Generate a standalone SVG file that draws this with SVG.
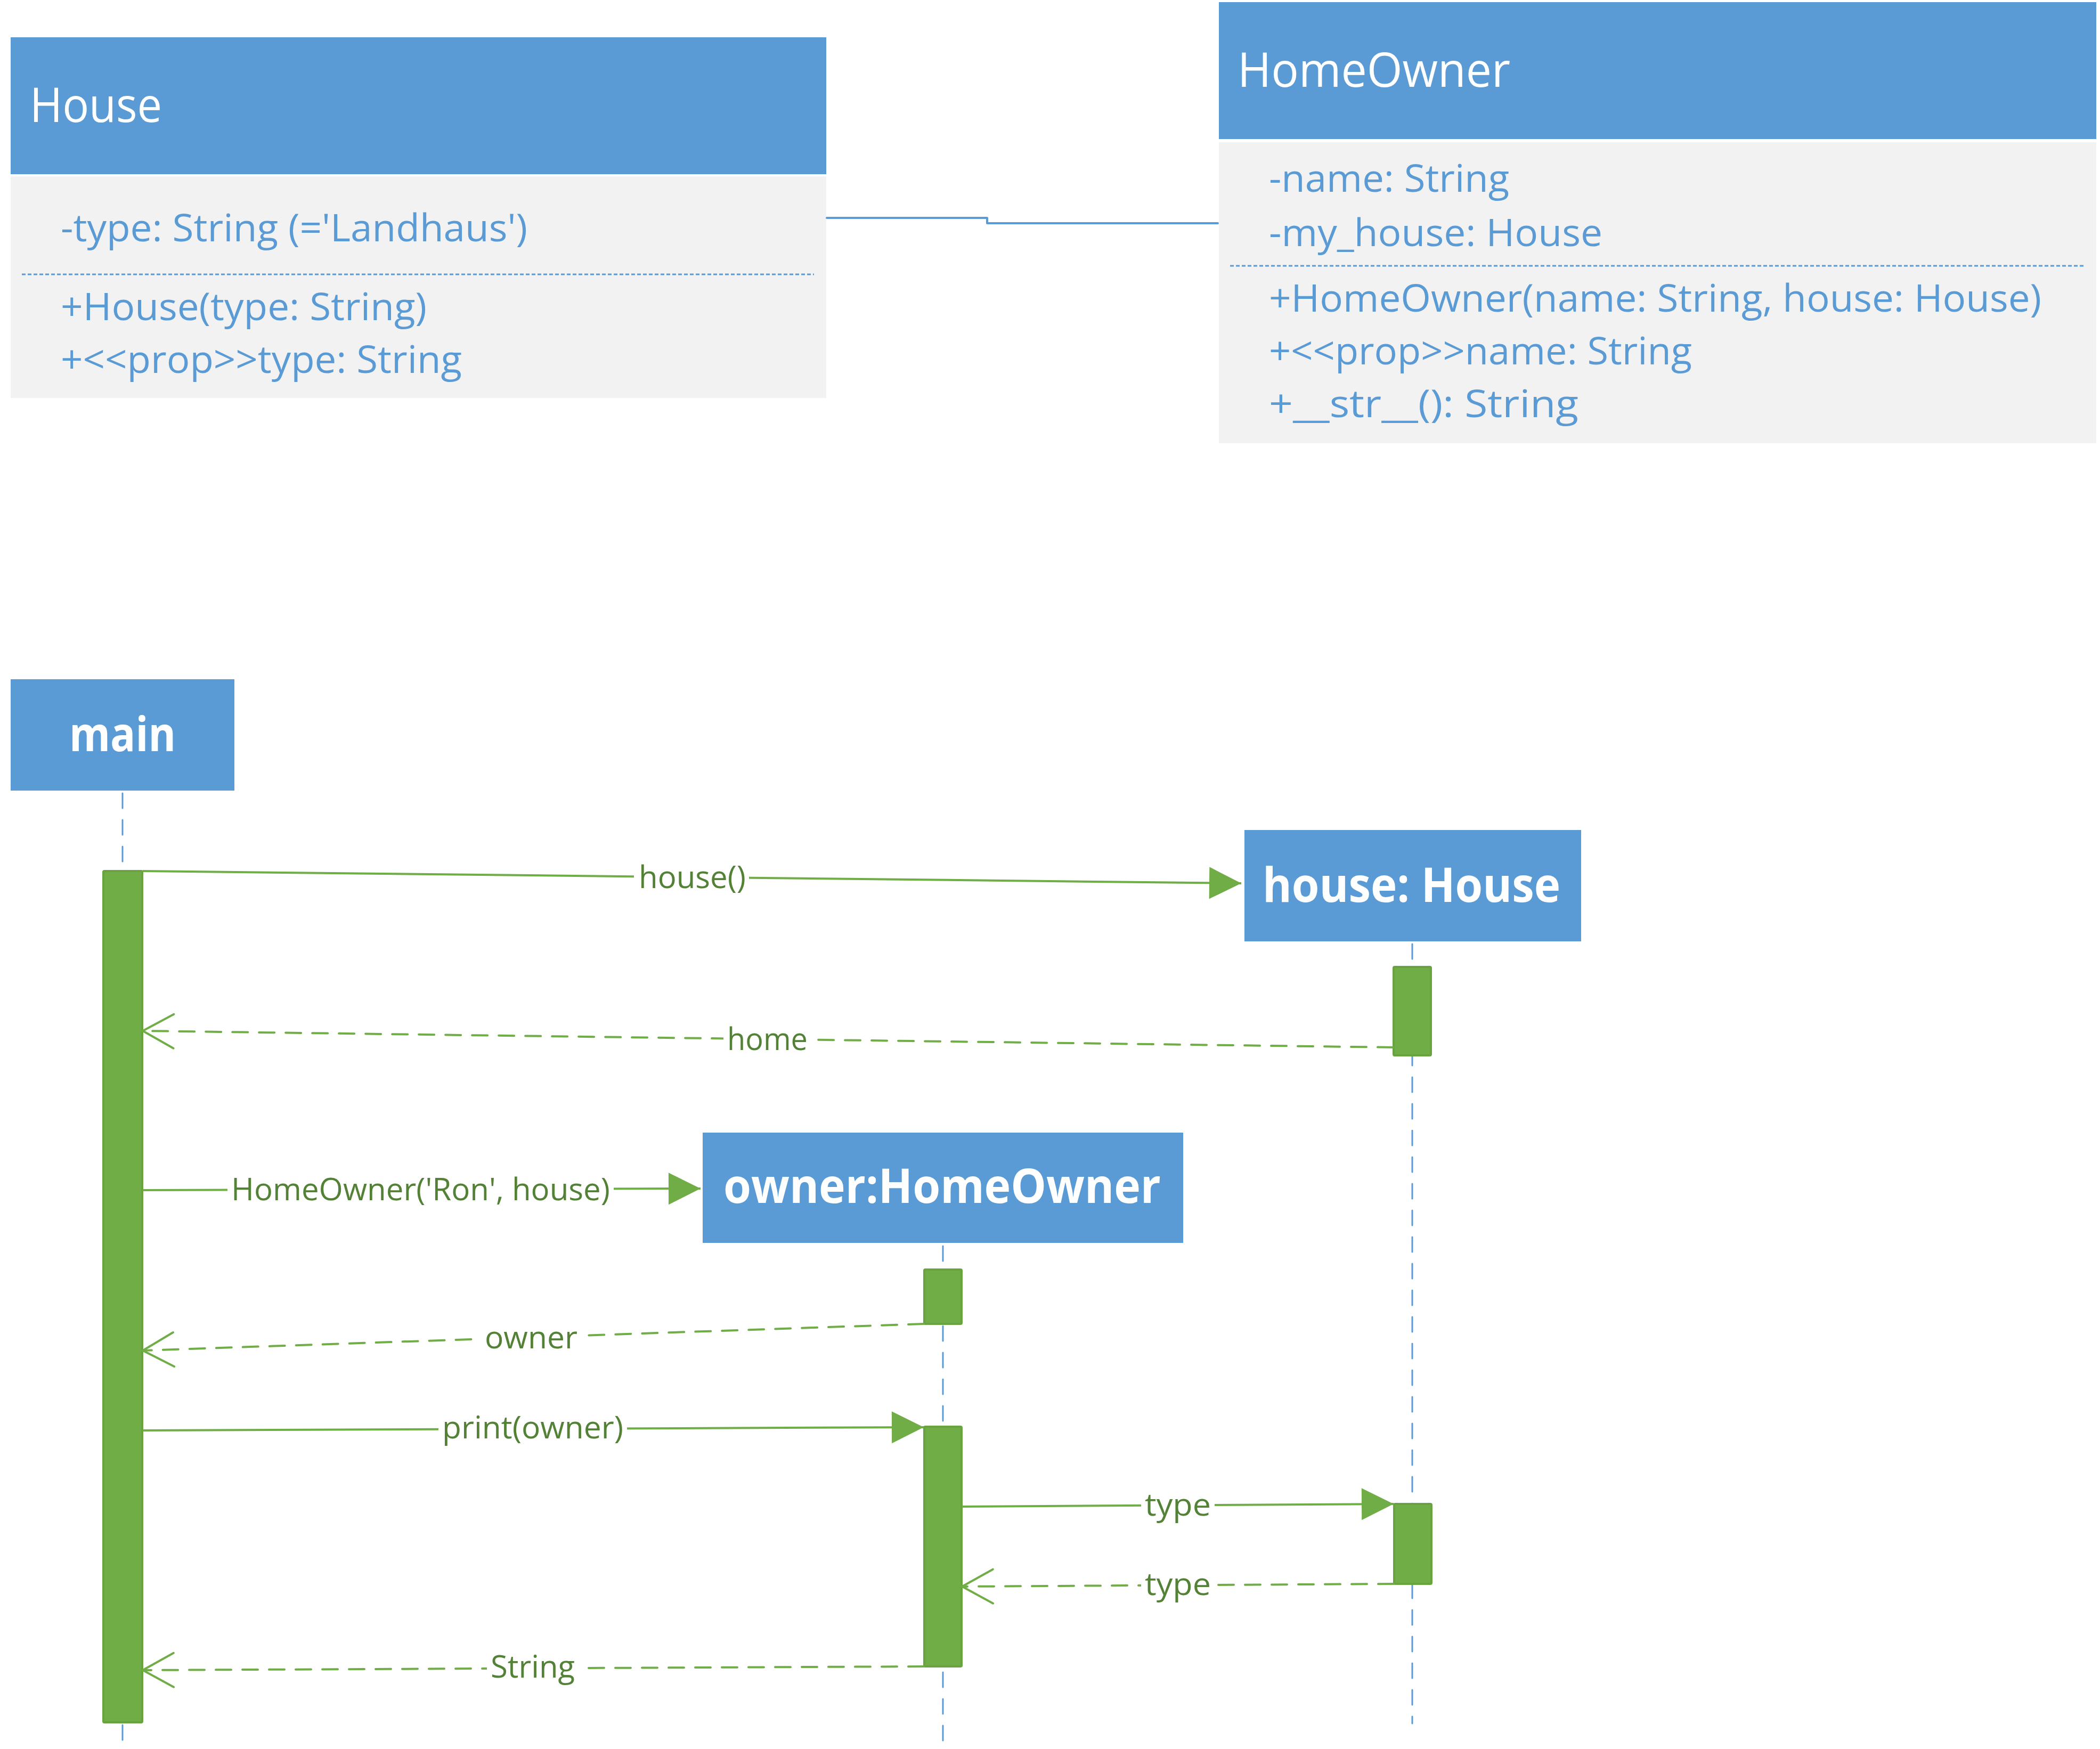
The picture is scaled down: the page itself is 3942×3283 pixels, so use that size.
<svg xmlns="http://www.w3.org/2000/svg" width="3942" height="3283" viewBox="0 0 3942 3283">
<style>
.hdr{fill:#5B9BD5}
.body{fill:#F2F2F2}
.title{font-family:"Open Sans","Liberation Sans",sans-serif;font-size:90px;fill:#FFFFFF}
.attr{font-family:"Open Sans","Liberation Sans",sans-serif;font-size:72px;fill:#5B9BD5}
.sep{stroke:#5B9BD5;stroke-width:3;stroke-dasharray:7 4;fill:none}
.assoc{stroke:#5B9BD5;stroke-width:4;fill:none;stroke-linejoin:round;stroke-linecap:round}
.head{fill:#5B9BD5}
.htxt{font-family:"Open Sans","Liberation Sans",sans-serif;font-size:90px;font-weight:700;fill:#FFFFFF}
.life{stroke:#5B9BD5;stroke-width:3;stroke-dasharray:28 22;stroke-linecap:round;fill:none}
.act{fill:#70AD47;stroke:#68A33F;stroke-width:4}
.msg{stroke:#70AD47;stroke-width:4;fill:none}
.ret{stroke:#70AD47;stroke-width:4;fill:none;stroke-dasharray:29 21;stroke-linecap:round}
.lblbg{fill:#FFFFFF}
.lbl{font-family:"Open Sans","Liberation Sans",sans-serif;font-size:58px;fill:#538135}
</style>
<defs>
<marker id="filled" markerUnits="userSpaceOnUse" markerWidth="62" markerHeight="62" refX="60" refY="30" orient="auto" overflow="visible">
<path d="M0,0 L60,30 L0,60 Z" fill="#70AD47" stroke="none"/>
</marker>
<marker id="open" markerUnits="userSpaceOnUse" markerWidth="62" markerHeight="66" refX="58" refY="32" orient="auto" overflow="visible">
<path d="M0,0 L58,32 L0,64" fill="none" stroke="#70AD47" stroke-width="4" stroke-dasharray="none" stroke-linecap="round"/>
</marker>
</defs>
<rect width="3942" height="3283" fill="#FFFFFF"/>

<g id="class-house">
<rect class="hdr" x="20" y="70" width="1531" height="257"/>
<rect class="body" x="20" y="331" width="1531" height="416"/>
<text class="title" x="56" y="229" textLength="248" lengthAdjust="spacingAndGlyphs">House</text>
<text class="attr" x="114" y="453" textLength="876" lengthAdjust="spacingAndGlyphs">-type: String (='Landhaus')</text>
<line class="sep" x1="41" y1="515" x2="1528" y2="515"/>
<text class="attr" x="114" y="601" textLength="687" lengthAdjust="spacingAndGlyphs">+House(type: String)</text>
<text class="attr" x="114" y="700" textLength="753" lengthAdjust="spacingAndGlyphs">+&lt;&lt;prop&gt;&gt;type: String</text>
</g>

<g id="class-homeowner">
<rect class="hdr" x="2288" y="4" width="1647" height="257"/>
<rect class="body" x="2288" y="267" width="1647" height="565"/>
<text class="title" x="2323" y="163" textLength="512" lengthAdjust="spacingAndGlyphs">HomeOwner</text>
<text class="attr" x="2382" y="360" textLength="451" lengthAdjust="spacingAndGlyphs">-name: String</text>
<text class="attr" x="2382" y="462" textLength="626" lengthAdjust="spacingAndGlyphs">-my_house: House</text>
<line class="sep" x1="2309" y1="499" x2="3915" y2="499"/>
<text class="attr" x="2382" y="585" textLength="1450" lengthAdjust="spacingAndGlyphs">+HomeOwner(name: String, house: House)</text>
<text class="attr" x="2382" y="684" textLength="794" lengthAdjust="spacingAndGlyphs">+&lt;&lt;prop&gt;&gt;name: String</text>
<text class="attr" x="2382" y="783" textLength="581" lengthAdjust="spacingAndGlyphs">+__str__(): String</text>
</g>

<g id="lifeline-main">
<line class="life" x1="230" y1="1489" x2="230" y2="1634"/>
<line class="life" x1="230" y1="3238" x2="230" y2="3283"/>
<rect class="head" x="20" y="1275" width="420" height="209"/>
<text class="htxt" x="130" y="1410" textLength="200" lengthAdjust="spacingAndGlyphs">main</text>
<rect class="act" x="194" y="1635" width="73" height="1598" rx="2"/>
</g>

<g id="lifeline-house">
<line class="life" x1="2651" y1="1772" x2="2651" y2="3235"/>
<rect class="head" x="2336" y="1558" width="632" height="209"/>
<text class="htxt" x="2370" y="1693" textLength="559" lengthAdjust="spacingAndGlyphs">house: House</text>
<rect class="act" x="2616" y="1815" width="70" height="166" rx="2"/>
<rect class="act" x="2617" y="2823" width="70" height="150" rx="2"/>
</g>

<g id="lifeline-owner">
<line class="life" x1="1770" y1="2339" x2="1770" y2="3283"/>
<rect class="head" x="1319" y="2126" width="902" height="207"/>
<text class="htxt" x="1358" y="2258" textLength="821" lengthAdjust="spacingAndGlyphs">owner:HomeOwner</text>
<rect class="act" x="1735" y="2383" width="70" height="102" rx="2"/>
<rect class="act" x="1735" y="2678" width="70" height="450" rx="2"/>
</g>

<g id="connectors">
<polyline class="assoc" points="1552,409 1853,409 1853,419 2286,419"/>

<line class="msg" x1="268" y1="1635" x2="2330" y2="1658" marker-end="url(#filled)"/>
<rect class="lblbg" x="1190" y="1612" width="216" height="72"/>
<text class="lbl" x="1199" y="1667" textLength="201" lengthAdjust="spacingAndGlyphs">house()</text>

<line class="ret" x1="2615" y1="1966" x2="268" y2="1935" marker-end="url(#open)"/>
<rect class="lblbg" x="1358" y="1915" width="165" height="72"/>
<text class="lbl" x="1365" y="1971" textLength="151" lengthAdjust="spacingAndGlyphs">home</text>

<line class="msg" x1="268" y1="2234" x2="1315" y2="2231" marker-end="url(#filled)"/>
<rect class="lblbg" x="427" y="2198" width="725" height="72"/>
<text class="lbl" x="434" y="2253" textLength="711" lengthAdjust="spacingAndGlyphs">HomeOwner('Ron', house)</text>

<line class="ret" x1="1734" y1="2485" x2="268" y2="2535" marker-end="url(#open)"/>
<rect class="lblbg" x="903" y="2488" width="188" height="56"/>
<text class="lbl" x="910" y="2531" textLength="174" lengthAdjust="spacingAndGlyphs">owner</text>

<line class="msg" x1="268" y1="2685" x2="1734" y2="2679" marker-end="url(#filled)"/>
<rect class="lblbg" x="823" y="2645" width="354" height="72"/>
<text class="lbl" x="830" y="2700" textLength="340" lengthAdjust="spacingAndGlyphs">print(owner)</text>

<line class="msg" x1="1806" y1="2828" x2="2616" y2="2823" marker-end="url(#filled)"/>
<rect class="lblbg" x="2142" y="2800" width="138" height="64"/>
<text class="lbl" x="2149" y="2845" textLength="124" lengthAdjust="spacingAndGlyphs">type</text>

<line class="ret" x1="2616" y1="2973" x2="1806" y2="2978" marker-end="url(#open)"/>
<rect class="lblbg" x="2142" y="2950" width="138" height="64"/>
<text class="lbl" x="2149" y="2994" textLength="124" lengthAdjust="spacingAndGlyphs">type</text>

<line class="ret" x1="1734" y1="3128" x2="268" y2="3135" marker-end="url(#open)"/>
<rect class="lblbg" x="914" y="3100" width="172" height="70"/>
<text class="lbl" x="921" y="3149" textLength="158" lengthAdjust="spacingAndGlyphs">String</text>
</g>
</svg>
